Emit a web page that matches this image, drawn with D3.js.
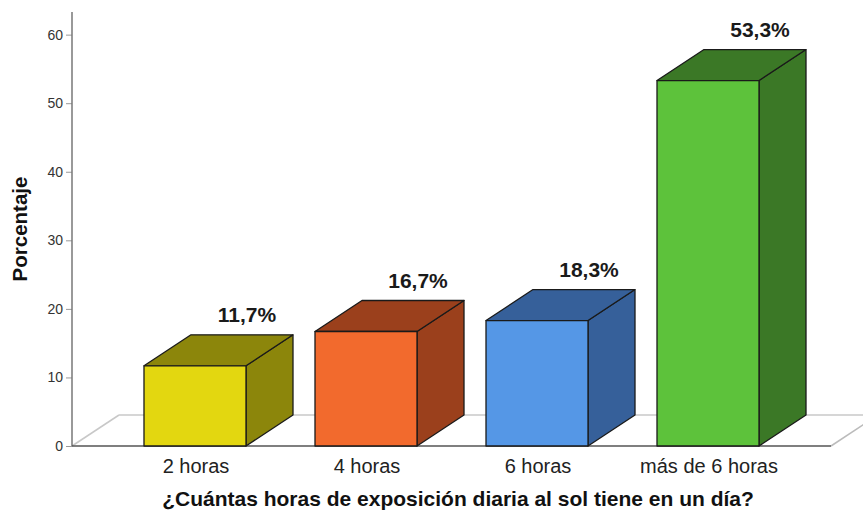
<!DOCTYPE html>
<html><head><meta charset="utf-8">
<script src="https://cdn.jsdelivr.net/npm/d3@7"></script>
<style>body{margin:0;background:#fff}svg{display:block}</style>
</head><body>
<svg id="c" width="863" height="520"></svg>
<script>
const categories = ["2 horas", "4 horas", "6 horas", "más de 6 horas"];
const values = [11.7, 16.7, 18.3, 53.3];
const valueLabels = ["11,7%", "16,7%", "18,3%", "53,3%"];
const frontColors = ["#E3D710", "#F26A2D", "#5597E6", "#5DC23B"];
const darkColors = ["#8C860B", "#9B401C", "#36609A", "#3B7826"];
const yTicks = [0, 10, 20, 30, 40, 50, 60];
const yTitle = "Porcentaje";
const xTitle = "¿Cuántas horas de exposición diaria al sol tiene en un día?";

const svg = d3.select("#c");
const font = "'Liberation Sans', Arial, sans-serif";
const x0 = 72, x1 = 831, yBase = 446, yTop = 12;
const DX = 47, DY = -31;

const x = d3.scaleBand().domain(categories).range([x0, x1]).paddingInner(0.4035).paddingOuter(0.421);
const y = d3.scaleLinear().domain([0, 63.3]).range([yBase, yTop]);

// floor
const g = svg.append("g");
g.append("line").attr("x1", x0 + DX).attr("y1", yBase + DY).attr("x2", x1 + DX).attr("y2", yBase + DY)
  .attr("stroke", "#c8c8c8").attr("stroke-width", 1.5);
g.append("line").attr("x1", x0).attr("y1", yBase).attr("x2", x0 + DX).attr("y2", yBase + DY)
  .attr("stroke", "#c8c8c8").attr("stroke-width", 1.5);
g.append("line").attr("x1", x1).attr("y1", yBase).attr("x2", x1 + DX).attr("y2", yBase + DY)
  .attr("stroke", "#bbbbbb").attr("stroke-width", 1.5);

// y axis
const axis = d3.axisLeft(y).tickValues(yTicks).tickSize(6).tickPadding(3).tickFormat(d3.format("d"));
const ag = svg.append("g").attr("transform", `translate(${x0},0)`).call(axis);
ag.select(".domain").remove();
ag.append("line").attr("x1", 0).attr("x2", 0).attr("y1", yTop).attr("y2", yBase).attr("stroke", "#777").attr("stroke-width", 1.5);
ag.selectAll(".tick line").attr("stroke", "#999");
ag.selectAll(".tick text").attr("font-family", font).attr("font-size", 14).attr("fill", "#333");

// front floor line
svg.append("line").attr("x1", x0).attr("y1", yBase).attr("x2", x1).attr("y2", yBase)
  .attr("stroke", "#555").attr("stroke-width", 1.5);

// bars
const bw = x.bandwidth();
const bars = svg.append("g");
values.forEach((v, i) => {
  const c = categories[i];
  const xl = x(c), xr = xl + bw, yt = y(v), yb = y(0);
  const bg = bars.append("g").attr("stroke", "#1a1a1a").attr("stroke-width", 1.3).attr("stroke-linejoin", "round");
  bg.append("path").attr("d", `M${xr},${yb}L${xr + DX},${yb + DY}L${xr + DX},${yt + DY}L${xr},${yt}Z`).attr("fill", darkColors[i]);
  bg.append("path").attr("d", `M${xl},${yt}L${xl + DX},${yt + DY}L${xr + DX},${yt + DY}L${xr},${yt}Z`).attr("fill", darkColors[i]);
  bg.append("rect").attr("x", xl).attr("y", yt).attr("width", bw).attr("height", yb - yt).attr("fill", frontColors[i]);
  svg.append("text").attr("x", xr + 1).attr("y", yt + DY - 13).attr("text-anchor", "middle")
    .attr("font-family", font).attr("font-weight", "bold").attr("font-size", 21).attr("fill", "#1a1a1a")
    .text(valueLabels[i]);
  svg.append("text").attr("x", xl + bw / 2 + 1).attr("y", 473).attr("text-anchor", "middle")
    .attr("font-family", font).attr("font-size", 20).attr("fill", "#222").text(c);
});

// titles
svg.append("text").attr("x", 458).attr("y", 506).attr("text-anchor", "middle")
  .attr("font-family", font).attr("font-weight", "bold").attr("font-size", 21).attr("fill", "#111").text(xTitle);
svg.append("text").attr("transform", "translate(27,229) rotate(-90)").attr("text-anchor", "middle")
  .attr("font-family", font).attr("font-weight", "bold").attr("font-size", 20.5).attr("fill", "#111").text(yTitle);
</script>
</body></html>
